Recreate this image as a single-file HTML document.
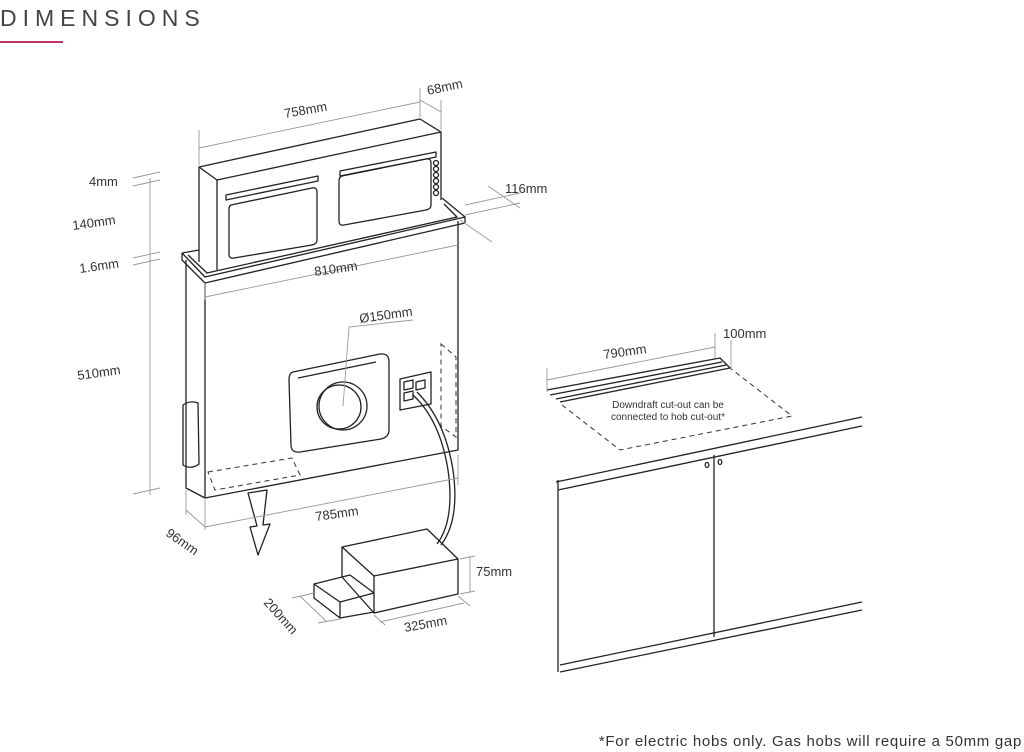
<!DOCTYPE html>
<html><head><style>
body{margin:0;background:#fff;}
svg{display:block;font-family:"Liberation Sans",sans-serif;}
.l{fill:none;stroke:#222;stroke-width:1.3;stroke-linejoin:round}
.t{fill:none;stroke:#999;stroke-width:0.9}
.d{fill:none;stroke:#333;stroke-width:1;stroke-dasharray:5,4}
text{fill:#333;font-size:13px}
</style></head><body>
<svg width="1024" height="752" viewBox="0 0 1024 752">
<text x="0" y="26" style="font-size:23px;letter-spacing:6px;fill:#444">DIMENSIONS</text>
<line x1="0" y1="42" x2="63" y2="42" stroke="#c0306a" stroke-width="2"/>

<!-- upper unit -->
<path class="l" d="M199,167 L420,119 L441,132 L217,180 Z"/>
<path class="l" d="M199,167 L199,262 M217,180 L217,270 M441,132 L441,200"/>
<path class="l" d="M226,195 L318,176 L318,181 L226,200 Z M340,171 L436,152 L436,157 L340,176 Z"/>
<path class="l" d="M231,205 L312,188 Q317,187 317,192 L317,240 Q317,244 312,245 L234,258 Q229,259 229,254 L229,210 Q229,206 231,205 Z"/>
<path class="l" d="M342,176 L426,159 Q431,158 431,163 L431,205 Q431,209 426,210 L344,225 Q339,226 339,221 L339,181 Q339,177 342,176 Z"/>
<g class="l"><circle cx="436" cy="163" r="2.5"/><circle cx="436" cy="169" r="2.5"/><circle cx="436" cy="175" r="2.5"/><circle cx="436" cy="181" r="2.5"/><circle cx="436" cy="187" r="2.5"/><circle cx="436" cy="193" r="2.5"/></g>
<!-- collar -->
<path class="l" d="M182,253 L205,277 L465,217 L442,198 M182,253 L199,250 M182,253 L182,260 L205,283 L465,223 L465,217"/>
<path class="l" d="M188,255 L207,273 L457,217 L444,204"/>
<!-- lower body -->
<path class="l" d="M186,260 L186,488 L205,498 L205,283 M205,498 L458,450 L458,221"/>
<path class="l" d="M183,405 Q190,400 198,403 L199,464 Q191,470 183,465 Z"/>
<path class="d" d="M208,472 L292,458 L300,475 L215,490 Z"/>
<path class="d" d="M441,344 L456,357 L456,437 L441,426 Z"/>
<path class="l" d="M293,372 L380,354 Q389,353 389,362 L389,430 Q389,437 381,439 L300,452 Q291,453 291,445 L289,380 Q289,373 293,372 Z"/>
<path class="l" d="M298,378 L376,362"/>
<circle class="l" cx="343" cy="406" r="24"/>
<circle class="l" cx="339" cy="407" r="22"/>
<path class="t" d="M343,406 L349,327 L413,320"/>
<text x="360" y="323" transform="rotate(-8 360 323)">Ø150mm</text>
<path class="l" d="M400,379 L431,372 L431,404 L400,410 Z M404,382 L413,380 L413,388 L404,390 Z M404,393 L413,391 L413,399 L404,401 Z M416,382 L425,380 L425,388 L416,390 Z"/>
<path class="l" d="M413,395 Q440,420 448,470 Q455,520 437,544 M417,392 Q445,420 453,470 Q460,520 441,545"/>
<!-- arrow -->
<path class="l" d="M248,493 L267,490 L263,525 L270,524 L258,555 L250,527 L257,526 Z"/>
<!-- boxes -->
<path class="l" d="M342,547 L427,529 L458,559 L374,576 Z M342,547 L342,577 L374,613 L374,576 M374,613 L458,594 L458,559"/>
<path class="l" d="M314,584 L350,575 L374,593 L340,602 Z M314,584 L314,598 L340,618 L374,612 M340,602 L340,618"/>

<!-- dims upper -->
<path class="t" d="M199,130 L199,165 M420,88 L420,117 M441,100 L441,130 M199,148 L420,102 M420,100 L441,112"/>
<text x="285" y="118" transform="rotate(-10 285 118)">758mm</text>
<text x="428" y="95" transform="rotate(-12 428 95)">68mm</text>
<path class="t" d="M465,205 L520,193 M465,215 L520,203 M488,186 L520,208 M460,220 L492,242"/>
<text x="505" y="193">116mm</text>
<path class="t" d="M205,297 L458,245 M205,283 L205,300"/>
<text x="315" y="276" transform="rotate(-8 315 276)">810mm</text>
<path class="t" d="M150,178 L150,495 M133,178 L160,172 M133,186 L160,180 M133,258 L160,252 M133,265 L160,259 M133,494 L160,488"/>
<text x="89" y="186">4mm</text>
<text x="73" y="230" transform="rotate(-8 73 230)">140mm</text>
<text x="80" y="273" transform="rotate(-8 80 273)">1.6mm</text>
<text x="78" y="380" transform="rotate(-8 78 380)">510mm</text>
<path class="t" d="M205,500 L205,530 M458,455 L458,485 M205,527 L458,478 M186,490 L186,515 M186,510 L205,527"/>
<text x="316" y="521" transform="rotate(-8 316 521)">785mm</text>
<text x="165" y="535" transform="rotate(35 165 535)">96mm</text>
<path class="t" d="M460,559 L475,556 M460,594 L475,591 M470,556 L470,592 M374,615 L385,625 M458,596 L470,606 M380,622 L464,603"/>
<text x="476" y="576">75mm</text>
<text x="405" y="632" transform="rotate(-10 405 632)">325mm</text>
<path class="t" d="M292,598 L314,593 M318,623 L340,619 M300,596 L326,621"/>
<text x="263" y="603" transform="rotate(48 263 603)">200mm</text>

<!-- right diagram -->
<path class="l" d="M556,482 L862,417 M558,490 L862,426 M558,480 L558,672 M714,455 L714,637 M560,665 L862,602 M560,672 L862,610"/>
<ellipse class="l" cx="707" cy="465" rx="1.8" ry="2.5"/><ellipse class="l" cx="720" cy="462" rx="1.8" ry="2.5"/>
<path class="l" d="M547,390 L720,358 L730,368 L560,402 M550,395 L722,362 M556,399 L726,365"/>
<path class="d" d="M562,405 L620,450 L792,416 L730,368"/>
<text x="668" y="408" text-anchor="middle" style="font-size:10px">Downdraft cut-out can be</text>
<text x="668" y="420" text-anchor="middle" style="font-size:10px">connected to hob cut-out*</text>
<path class="t" d="M547,368 L547,392 M715,333 L715,358 M731,340 L731,370 M547,380 L715,347"/>
<text x="604" y="359" transform="rotate(-8 604 359)">790mm</text>
<text x="723" y="338">100mm</text>

<text x="1022" y="746" text-anchor="end" style="font-size:15px;letter-spacing:0.7px">*For electric hobs only. Gas hobs will require a 50mm gap</text>
</svg>
</body></html>
